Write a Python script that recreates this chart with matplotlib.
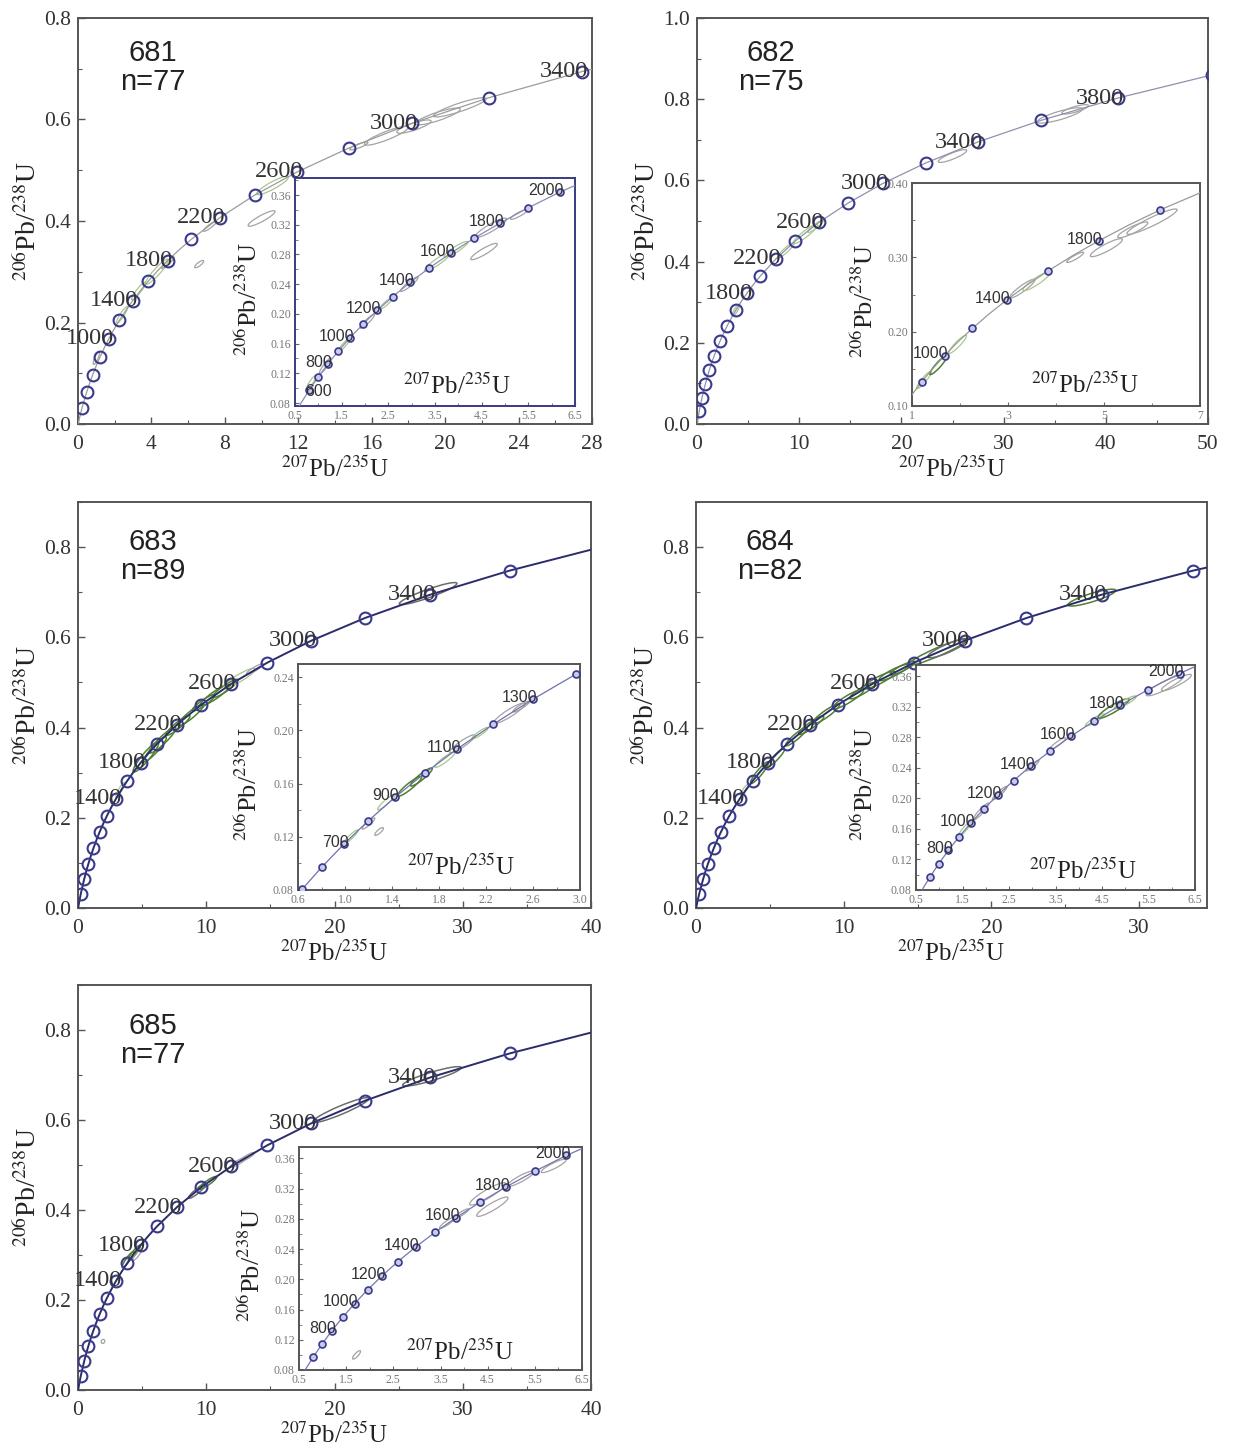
import numpy as np
import matplotlib
matplotlib.use('Agg')
import matplotlib.pyplot as plt
from matplotlib.patches import Ellipse
from matplotlib.transforms import ScaledTranslation
from matplotlib.ticker import MultipleLocator, FormatStrFormatter, FixedLocator

plt.rcParams['font.family'] = ['Liberation Serif', 'DejaVu Serif']
plt.rcParams['mathtext.fontset'] = 'stix'

# concordia reference points (age in Ma, 207Pb/235U, 206Pb/238U)
conc_age = [0, 200, 400, 500, 600, 700, 800, 900, 1000, 1100, 1200, 1300, 1400, 1500,
            1600, 1700, 1800, 1900, 2000, 2200, 2400, 2600, 2800, 3000, 3200, 3400,
            3600, 3800, 4000]
conc_207 = [0.0, 0.2177, 0.4828, 0.6363, 0.8056, 0.9925, 1.1987, 1.4263, 1.6774, 1.9545,
            2.2603, 2.5977, 2.9701, 3.3810, 3.8344, 4.3348, 4.8869, 5.4962, 6.1685, 7.7292,
            9.6296, 11.9437, 14.7616, 18.1931, 22.3716, 27.4598, 33.6556, 41.2004, 50.3877]
conc_206 = [0.0, 0.0315, 0.0640, 0.0807, 0.0975, 0.1147, 0.1321, 0.1498, 0.1678, 0.1861,
            0.2046, 0.2234, 0.2426, 0.2620, 0.2817, 0.3018, 0.3221, 0.3428, 0.3638, 0.4067,
            0.4511, 0.4968, 0.5439, 0.5926, 0.6428, 0.6945, 0.7479, 0.8030, 0.8598]

samples = ['681', '682', '683', '684', '685']
n_grains = [77, 75, 89, 82, 77]

main_marks = [200, 400, 600, 800, 1000, 1200, 1400, 1600, 1800, 2000, 2200, 2400, 2600,
              2800, 3000, 3200, 3400, 3600, 3800, 4000]
main_labels_681 = [1000, 1400, 1800, 2200, 2600, 3000, 3400]
main_labels_682 = [1800, 2200, 2600, 3000, 3400, 3800]
main_labels_683 = [1400, 1800, 2200, 2600, 3000, 3400]

inset_marks_100 = [600, 700, 800, 900, 1000, 1100, 1200, 1300, 1400, 1500, 1600, 1700, 1800, 1900, 2000]
inset_marks_682 = [800, 1000, 1200, 1400, 1600, 1800, 2000]
inset_marks_683 = [500, 600, 700, 800, 900, 1000, 1100, 1200, 1300, 1400]
inset_labels_681 = [600, 800, 1000, 1200, 1400, 1600, 1800, 2000]
inset_labels_682 = [1000, 1400, 1800]
inset_labels_683 = [700, 900, 1100, 1300]
inset_labels_684 = [800, 1000, 1200, 1400, 1600, 1800, 2000]

# analyses: (207Pb/235U, 206Pb/238U, ellipse length, kind)
ell_681 = [(1.0, 0.130, 10, 'k'), (2.4, 0.215, 14, 'g'), (3.3, 0.262, 16, 'g'), (4.3, 0.300, 24, 'g'),
           (4.9, 0.318, 12, 'k'), (6.6, 0.315, 8, 'k'), (7.2, 0.390, 12, 'k'), (10.0, 0.405, 22, 'k'),
           (10.6, 0.470, 26, 'g'), (15.3, 0.548, 14, 'k'), (16.8, 0.568, 34, 'k'), (18.3, 0.586, 26, 'k'),
           (19.6, 0.606, 34, 'k'), (20.8, 0.624, 40, 'k')]
ell_681i = [(0.85, 0.108, 12, 'g'), (1.15, 0.130, 14, 'k'), (1.55, 0.158, 12, 'g'), (2.05, 0.190, 14, 'k'),
            (2.45, 0.214, 12, 'g'), (2.95, 0.240, 16, 'k'), (3.55, 0.270, 22, 'g'), (3.95, 0.287, 20, 'g'),
            (4.55, 0.284, 22, 'k'), (4.70, 0.316, 26, 'k'), (5.30, 0.334, 14, 'k')]
ell_682 = [(3.8, 0.280, 10, 'g'), (8.7, 0.428, 16, 'g'), (10.6, 0.468, 22, 'g'), (11.6, 0.487, 14, 'g'),
           (25.0, 0.660, 22, 'k'), (35.5, 0.760, 34, 'k'), (37.0, 0.775, 20, 'k')]
ell_682i = [(1.25, 0.135, 16, 'g'), (1.55, 0.155, 18, 'G'), (1.95, 0.183, 18, 'g'), (3.3, 0.258, 22, 'k'),
            (3.6, 0.268, 24, 'g'), (4.4, 0.300, 14, 'k'), (5.05, 0.313, 26, 'k'), (5.6, 0.337, 24, 'k'),
            (6.0, 0.348, 40, 'k')]
ell_683 = [(3.3, 0.262, 12, 'g'), (5.3, 0.335, 28, 'G'), (6.0, 0.352, 24, 'G'), (6.6, 0.372, 26, 'G'),
           (7.8, 0.405, 22, 'G'), (8.8, 0.428, 24, 'G'), (9.8, 0.455, 20, 'G'), (10.7, 0.472, 26, 'G'),
           (11.5, 0.487, 22, 'G'), (12.6, 0.510, 26, 'g'), (13.8, 0.530, 14, 'k'), (27.3, 0.697, 44, 'd')]
ell_683i = [(1.05, 0.120, 14, 'g'), (1.20, 0.130, 12, 'k'), (1.29, 0.124, 8, 'k'), (1.35, 0.146, 16, 'g'),
            (1.55, 0.158, 22, 'G'), (1.65, 0.165, 20, 'G'), (1.85, 0.178, 18, 'g'), (2.00, 0.190, 22, 'k'),
            (2.15, 0.198, 14, 'g'), (2.40, 0.213, 26, 'k'), (2.50, 0.218, 14, 'k')]
ell_684 = [(3.3, 0.262, 10, 'g'), (4.3, 0.300, 20, 'G'), (5.4, 0.333, 18, 'G'), (6.8, 0.380, 20, 'G'),
           (7.8, 0.405, 22, 'G'), (8.8, 0.430, 24, 'G'), (10.3, 0.463, 26, 'G'), (11.3, 0.482, 22, 'G'),
           (12.4, 0.505, 26, 'G'), (13.4, 0.522, 24, 'G'), (14.0, 0.532, 20, 'G'), (16.4, 0.568, 46, 'G'),
           (17.0, 0.575, 30, 'd'), (26.8, 0.688, 36, 'G')]
ell_684i = [(1.55, 0.160, 14, 'g'), (1.90, 0.183, 16, 'k'), (2.30, 0.207, 14, 'k'), (3.00, 0.243, 12, 'k'),
            (3.55, 0.272, 14, 'k'), (4.35, 0.303, 16, 'g'), (4.75, 0.318, 26, 'G'), (5.00, 0.326, 18, 'g'),
            (5.85, 0.348, 30, 'k'), (6.10, 0.352, 24, 'k')]
ell_685 = [(1.95, 0.108, 3, 'k'), (3.9, 0.290, 14, 'G'), (4.4, 0.305, 14, 'G'), (4.6, 0.300, 10, 'k'),
           (9.3, 0.442, 16, 'd'), (10.1, 0.460, 16, 'G'), (12.5, 0.506, 14, 'k'), (13.2, 0.518, 12, 'k'),
           (20.5, 0.622, 44, 'd'), (27.6, 0.697, 44, 'd')]
ell_685i = [(1.72, 0.100, 8, 'k'), (3.65, 0.275, 14, 'k'), (3.95, 0.287, 12, 'k'), (4.50, 0.313, 30, 'k'),
            (4.60, 0.296, 26, 'k'), (5.20, 0.333, 22, 'k'), (5.90, 0.350, 20, 'k')]

W, H = 1233, 1452
fig = plt.figure(figsize=(W / 100, H / 100), dpi=100)

YLAB = r'$^{206}$Pb/$^{238}$U'
XLAB = r'$^{207}$Pb/$^{235}$U'
SANS = ['Liberation Sans', 'DejaVu Sans']
ELL_COL = {'g': '#a9c78c', 'G': '#4f7f30', 'k': '#a3a3a3', 'd': '#6c6c6c'}


def rect(l, t, r, b):
    return [l / W, 1 - b / H, (r - l) / W, (b - t) / H]


def draw_ellipses(ax, ell):
    pts = ax.transData.transform(np.column_stack([conc_207, conc_206]))
    for x, y, L, kind in ell:
        i = int(np.clip(np.searchsorted(conc_207, x), 1, len(conc_207) - 1))
        d = pts[i] - pts[i - 1]
        ang = np.degrees(np.arctan2(d[1], d[0]))
        th = min(max(L * 0.2, 2.5), 6)
        tr = fig.dpi_scale_trans + ScaledTranslation(x, y, ax.transData)
        ax.add_patch(Ellipse((0, 0), L / 72, th / 72, angle=ang, transform=tr, fill=False,
                             ec=ELL_COL[kind], lw=1.1 if kind in 'Gd' else 0.9, zorder=2))


def plot_marks(ax, ages, ms, mew, mfc):
    idx = [conc_age.index(a) for a in ages]
    ax.plot([conc_207[i] for i in idx], [conc_206[i] for i in idx], 'o', ms=ms, mfc=mfc,
            mec='#3a3a8c', mew=mew, zorder=4)


def main_panel(box, xlim, ylim, xmaj, ymaj, line_col, line_lw, labels, name, n, ell, title_y):
    ax = fig.add_axes(rect(*box))
    ax.set_xlim(xlim)
    ax.set_ylim(ylim)
    ax.set_autoscale_on(False)
    ax.plot(conc_207, conc_206, color=line_col, lw=line_lw, zorder=3)
    draw_ellipses(ax, ell)
    plot_marks(ax, main_marks, 8.5, 1.5, 'none')
    for a in labels:
        i = conc_age.index(a)
        ax.annotate(str(a), (conc_207[i], conc_206[i]), xytext=(4, -4), textcoords='offset points',
                    ha='right', va='baseline', fontsize=17.5, color='#333333', zorder=5)
    ax.text(0.145, title_y, '%s\nn=%d' % (name, n), transform=ax.transAxes, ha='center', va='center',
            fontsize=21, family=SANS, color='#222222', linespacing=1.05)
    ax.xaxis.set_major_locator(MultipleLocator(xmaj))
    ax.xaxis.set_minor_locator(MultipleLocator(xmaj / 2))
    ax.yaxis.set_major_locator(MultipleLocator(ymaj))
    ax.yaxis.set_minor_locator(MultipleLocator(ymaj / 2))
    ax.xaxis.set_major_formatter(FormatStrFormatter('%d'))
    ax.yaxis.set_major_formatter(FormatStrFormatter('%.1f'))
    ax.tick_params(which='both', direction='in', colors='#555555', labelcolor='#333333')
    ax.tick_params(which='major', length=5, width=1.0, labelsize=15.5, pad=5)
    ax.tick_params(axis='x', which='major', pad=8)
    ax.tick_params(which='minor', length=3, width=0.8)
    for s in ax.spines.values():
        s.set_color('#555555')
        s.set_linewidth(1.4)
    ax.set_ylabel(YLAB, fontsize=20, color='#222222')
    ax.yaxis.set_label_coords(-0.07, 0.5)
    ax.set_xlabel(XLAB, fontsize=18, color='#222222')
    ax.xaxis.set_label_coords(0.5, -0.08)
    return ax


def inset_panel(box, xlim, ylim, xticks, xminor, yticks, yminor, xfmt, yfmt, marks, labels,
                frame_col, line_col, ell, ylab_x, xlab_pos, shift=None):
    shift = shift or {}
    ax = fig.add_axes(rect(*box))
    ax.set_facecolor('white')
    ax.set_xlim(xlim)
    ax.set_ylim(ylim)
    ax.set_autoscale_on(False)
    ax.plot(conc_207, conc_206, color=line_col, lw=0.9, zorder=3)
    draw_ellipses(ax, ell)
    plot_marks(ax, marks, 5, 1.2, '#c9c9ea')
    for a in labels:
        i = conc_age.index(a)
        ax.annotate(str(a), (conc_207[i], conc_206[i]), xytext=shift.get(a, (3, -2)),
                    textcoords='offset points', ha='right', va='baseline', fontsize=11.5,
                    family=SANS, color='#333333', zorder=5)
    ax.xaxis.set_major_locator(FixedLocator(xticks))
    ax.xaxis.set_minor_locator(MultipleLocator(xminor))
    ax.yaxis.set_major_locator(FixedLocator(yticks))
    ax.yaxis.set_minor_locator(MultipleLocator(yminor))
    ax.xaxis.set_major_formatter(FormatStrFormatter(xfmt))
    ax.yaxis.set_major_formatter(FormatStrFormatter(yfmt))
    ax.tick_params(which='both', direction='in', colors='#666666', labelcolor='#777777')
    ax.tick_params(which='major', length=3, width=0.8, labelsize=8.5, pad=3)
    ax.tick_params(which='minor', length=2, width=0.6)
    for s in ax.spines.values():
        s.set_color(frame_col)
        s.set_linewidth(1.4)
    ax.set_ylabel(YLAB, fontsize=19, color='#222222')
    ax.yaxis.set_label_coords(ylab_x, 0.47)
    ax.text(xlab_pos[0], xlab_pos[1], XLAB, transform=ax.transAxes, ha='center', va='center',
            fontsize=18, color='#222222', zorder=6)
    return ax


# 681
main_panel((78, 18, 592, 424), (0, 28), (0, 0.8), 4, 0.2, '#9c9c9c', 0.9, main_labels_681,
           samples[0], n_grains[0], ell_681, 0.877)
inset_panel((295, 178, 575, 406), (0.5, 6.5), (0.076, 0.383), [0.5, 1.5, 2.5, 3.5, 4.5, 5.5, 6.5], 0.5,
            [0.08, 0.12, 0.16, 0.20, 0.24, 0.28, 0.32, 0.36], 0.02, '%.1f', '%.2f', inset_marks_100,
            inset_labels_681, '#3a3a82', '#8a8ab8', ell_681i, -0.118, (0.58, 0.085), shift={600: (16, -4)})

# 682
main_panel((697, 18, 1208, 424), (0, 50), (0, 1.0), 10, 0.2, '#9090b0', 0.9, main_labels_682,
           samples[1], n_grains[1], ell_682, 0.877)
inset_panel((912, 183, 1200, 406), (1, 7), (0.10, 0.40), [1, 3, 5, 7], 1,
            [0.10, 0.20, 0.30, 0.40], 0.05, '%d', '%.2f', inset_marks_682,
            inset_labels_682, '#555555', '#9a9a9a', ell_682i, -0.118, (0.6, 0.095))

# 683
main_panel((78, 502, 591, 908), (0, 40), (0, 0.9), 10, 0.2, '#2c2c6c', 1.4, main_labels_683,
           samples[2], n_grains[2], ell_683, 0.865)
inset_panel((298, 664, 580, 890), (0.6, 3.0), (0.08, 0.25), [0.6, 1.0, 1.4, 1.8, 2.2, 2.6, 3.0], 0.2,
            [0.08, 0.12, 0.16, 0.20, 0.24], 0.02, '%.1f', '%.2f', inset_marks_683,
            inset_labels_683, '#555555', '#6f6fae', ell_683i, -0.128, (0.58, 0.1))

# 684
main_panel((696, 502, 1207, 908), (0, 34.6), (0, 0.9), 10, 0.2, '#2c2c6c', 1.4, main_labels_683,
           samples[3], n_grains[3], ell_684, 0.865)
inset_panel((916, 665, 1195, 890), (0.5, 6.5), (0.08, 0.375), [0.5, 1.5, 2.5, 3.5, 4.5, 5.5, 6.5], 0.5,
            [0.08, 0.12, 0.16, 0.20, 0.24, 0.28, 0.32, 0.36], 0.02, '%.1f', '%.2f', inset_marks_100,
            inset_labels_684, '#555555', '#7777b0', ell_684i, -0.136, (0.6, 0.085))

# 685
main_panel((78, 985, 591, 1390), (0, 40), (0, 0.9), 10, 0.2, '#2c2c6c', 1.4, main_labels_683,
           samples[4], n_grains[4], ell_685, 0.864)
inset_panel((299, 1147, 582, 1370), (0.5, 6.5), (0.08, 0.375), [0.5, 1.5, 2.5, 3.5, 4.5, 5.5, 6.5], 0.5,
            [0.08, 0.12, 0.16, 0.20, 0.24, 0.28, 0.32, 0.36], 0.02, '%.1f', '%.2f', inset_marks_100,
            inset_labels_684, '#555555', '#7777b0', ell_685i, -0.12, (0.57, 0.08))

fig.savefig('out.png', dpi=100, facecolor='white')
